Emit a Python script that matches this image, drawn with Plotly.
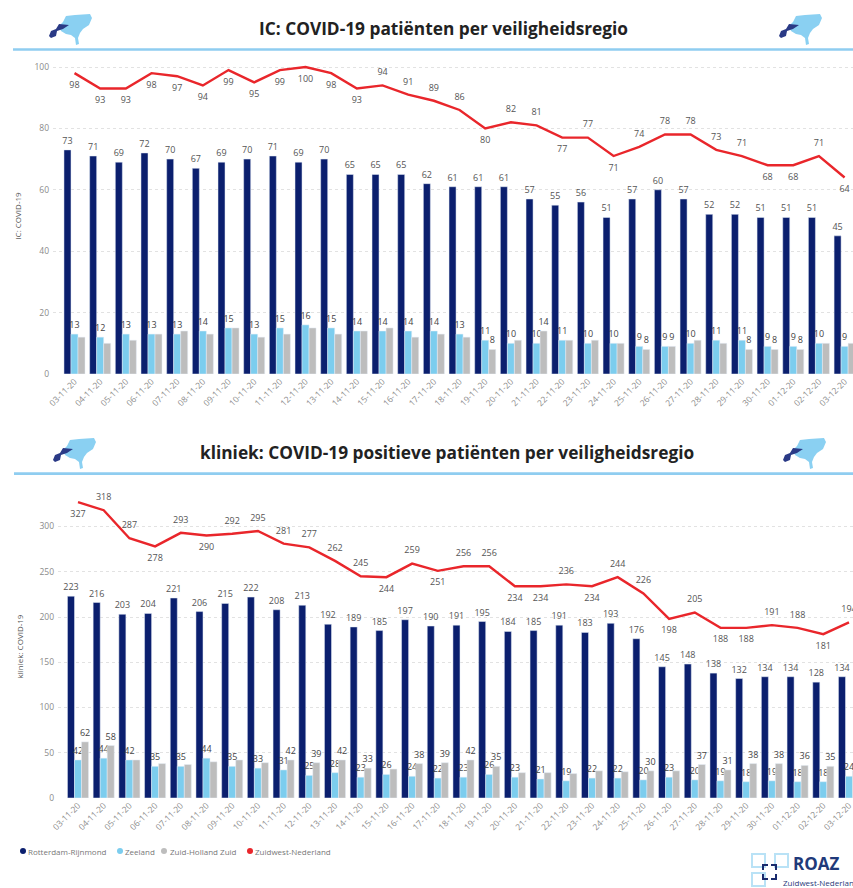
import plotly.graph_objects as go

W, H = 853, 888
dates = ["03-11-20","04-11-20","05-11-20","06-11-20","07-11-20","08-11-20","09-11-20","10-11-20","11-11-20","12-11-20",
         "13-11-20","14-11-20","15-11-20","16-11-20","17-11-20","18-11-20","19-11-20","20-11-20","21-11-20","22-11-20",
         "23-11-20","24-11-20","25-11-20","26-11-20","27-11-20","28-11-20","29-11-20","30-11-20","01-12-20","02-12-20","03-12-20"]

ic_rotterdam = [73,71,69,72,70,67,69,70,71,69,70,65,65,65,62,61,61,61,57,55,56,51,57,60,57,52,52,51,51,51,45]
ic_zeeland = [13,12,13,13,13,14,15,13,15,16,15,14,14,14,14,13,11,10,10,11,10,10,9,9,10,11,11,9,9,10,9]
ic_zhz = [12,10,11,13,14,13,15,12,13,15,13,14,15,12,13,12,8,11,14,11,11,10,8,9,11,10,8,8,8,10,10]
ic_zwn = [98,93,93,98,97,94,99,95,99,100,98,93,94,91,89,86,80,82,81,77,77,71,74,78,78,73,71,68,68,71,64]
ic_zwn_pos = list("bbbbbbbbbbbbaaaabaababaaaaabbab")
ic_zhz_shown = [16,18,22,23,26,27,28]

kl_rotterdam = [223,216,203,204,221,206,215,222,208,213,192,189,185,197,190,191,195,184,185,191,183,193,176,145,148,138,132,134,134,128,134]
kl_zeeland = [42,44,42,35,35,44,35,33,31,25,28,23,26,24,22,23,26,23,21,19,22,22,20,23,20,19,18,19,18,18,24]
kl_zhz = [62,58,42,38,37,40,42,39,42,39,42,33,32,38,39,42,35,28,28,27,30,29,30,30,37,31,38,38,36,35,30]
kl_zwn = [327,318,287,278,293,290,292,295,281,277,262,245,244,259,251,256,256,234,234,236,234,244,226,198,205,188,188,191,188,181,194]
kl_zwn_pos = list("baababaaaaaababaabbabaababbaaba")
kl_zhz_shown = [0,1,8,9,10,11,13,14,15,16,22,24,25,26,27,28,29]

NAVY, LIGHT, GREY, RED = "#0b1f6e", "#7ccdee", "#bdbdbd", "#e9262b"
LINE = "#8fcdf0"
FONT = "Open Sans"

def px(x): return x / W
def py(y): return 1 - y / H

fig = go.Figure()

def panel(xa, ya, rot, zee, zhz, zwn, pos, shown):
    fig.add_bar(x=dates, y=rot, name="Rotterdam-Rijnmond", marker_color=NAVY, xaxis=xa, yaxis=ya,
                text=[str(v) for v in rot], textposition="outside", textangle=0, constraintext="none",
                cliponaxis=False, textfont=dict(family=FONT, size=9, color="#555"), showlegend=False)
    fig.add_bar(x=dates, y=zee, name="Zeeland", marker_color=LIGHT, xaxis=xa, yaxis=ya,
                text=[str(v) for v in zee], textposition="outside", textangle=0, constraintext="none",
                cliponaxis=False, textfont=dict(family=FONT, size=9, color="#444"), showlegend=False)
    fig.add_bar(x=dates, y=zhz, name="Zuid-Holland Zuid", marker_color=GREY, xaxis=xa, yaxis=ya,
                text=[str(v) if i in shown else "" for i, v in enumerate(zhz)], textposition="outside",
                textangle=0, constraintext="none", cliponaxis=False,
                textfont=dict(family=FONT, size=9, color="#444"), showlegend=False)
    fig.add_scatter(x=dates, y=zwn, name="Zuidwest-Nederland", mode="lines+markers+text", xaxis=xa, yaxis=ya,
                    line=dict(color=RED, width=2.4), text=[str(v) for v in zwn], cliponaxis=False,
                    marker=dict(size=11, color="rgba(0,0,0,0)"),
                    textposition=["top center" if p == "a" else "bottom center" for p in pos],
                    textfont=dict(family=FONT, size=9, color="#555"), showlegend=False)

panel("x", "y", ic_rotterdam, ic_zeeland, ic_zhz, ic_zwn, ic_zwn_pos, ic_zhz_shown)
panel("x2", "y2", kl_rotterdam, kl_zeeland, kl_zhz, kl_zwn, kl_zwn_pos, kl_zhz_shown)

tick = dict(family=FONT, size=8.5, color="#8a8a8a")
xcommon = dict(type="category", tickangle=-45, tickfont=tick, showgrid=False, showline=False, ticks="",
               zeroline=False, tickmode="array", tickvals=dates, ticktext=dates, automargin=False)
ycommon = dict(tickfont=tick, gridcolor="#e2e2e2", griddash="dot", gridwidth=1, zeroline=False, showline=False,
               ticks="", ticklabelstandoff=3, automargin=False)

s1, c1 = 25.67, 74.5
s2, c2 = 25.7, 78.0
l1, l2 = 53, 58
fig.update_layout(
    width=W, height=H, margin=dict(l=0, r=0, t=0, b=0), paper_bgcolor="white", plot_bgcolor="white",
    barmode="group", bargap=0.18, bargroupgap=0, showlegend=False, font=dict(family=FONT),
    xaxis=dict(xcommon, domain=[px(l1), 1], range=[(l1 - c1) / s1, (W - c1) / s1], anchor="y"),
    yaxis=dict(ycommon, domain=[py(374), py(58)], range=[0, (374 - 58) / 3.07], tickvals=[0,20,40,60,80,100],
               anchor="x", title=dict(text="IC: COVID-19", font=dict(family=FONT, size=8, color="#555"), standoff=11)),
    xaxis2=dict(xcommon, domain=[px(l2), 1], range=[(l2 - c2) / s2, (W - c2) / s2], anchor="y2"),
    yaxis2=dict(ycommon, domain=[py(798), py(495)], range=[0, (798 - 495) / 0.905], tickvals=[0,50,100,150,200,250,300],
                anchor="x2", title=dict(text="kliniek: COVID-19", font=dict(family=FONT, size=8, color="#555"), standoff=14)),
)

shapes, ann = [], []
def text(x, y, s, size, color, anchor="left", bold=False):
    ann.append(dict(xref="paper", yref="paper", x=px(x), y=py(y), text=f"<b>{s}</b>" if bold else s, showarrow=False,
                    xanchor=anchor, yanchor="middle", font=dict(family=FONT, size=size, color=color)))
def path(points, fill=None, line=None, width=0, close=True):
    d = "M " + " L ".join(f"{px(a):.5f},{py(b):.5f}" for a, b in points) + (" Z" if close else "")
    shapes.append(dict(type="path", path=d, xref="paper", yref="paper", fillcolor=fill if fill else "rgba(0,0,0,0)",
                       line=dict(color=line if line else "rgba(0,0,0,0)", width=width)))
def logo(ax, ay):
    land = [(10,12),(14,8),(17,2),(26,1),(41,0),(43,4),(40,11),(34,15),(31,19),(29,24),(30,30),(27,31),(26,24),(22,21),(17,20),(12,17)]
    dark = [(0,22),(2,17),(7,15),(10,10),(20,11),(14,15),(8,17),(7,22),(2,24)]
    path([(ax + a, ay + b) for a, b in land], fill="#8ad0f2")
    path([(ax + a, ay + b) for a, b in dark], fill="#2a3a86")

for ax, ay in [(49, 14), (779, 14), (53, 438), (783, 438)]:
    logo(ax, ay)
path([(13, 49.5), (853, 49.5)], line=LINE, width=2.5, close=False)
path([(14, 473.7), (853, 473.7)], line=LINE, width=2.8, close=False)
text(443, 29, "IC: COVID-19 patiënten per veiligheidsregio", 17.3, "#222", "center", True)
text(447, 452, "kliniek: COVID-19 positieve patiënten per veiligheidsregio", 17.3, "#222", "center", True)

# legend
for dx, tx, name, col in [(23, 26, "Rotterdam-Rijnmond", NAVY), (120, 123, "Zeeland", LIGHT),
                          (164, 168, "Zuid-Holland Zuid", GREY), (250, 253, "Zuidwest-Nederland", RED)]:
    shapes.append(dict(type="circle", xref="paper", yref="paper", x0=px(dx - 3), x1=px(dx + 3), y0=py(854), y1=py(848),
                       fillcolor=col, line=dict(width=0)))
    text(tx, 851, name, 8, "#777")

# ROAZ mark
for x0, y0, x1, y1 in [(752, 854, 765, 867), (775, 854, 788, 867), (752, 873, 765, 886)]:
    shapes.append(dict(type="rect", xref="paper", yref="paper", x0=px(x0), x1=px(x1), y0=py(y0), y1=py(y1),
                       line=dict(color="#b9e2f6", width=2), fillcolor="rgba(0,0,0,0)"))
for pts in [[(768, 865), (763, 865), (763, 870)], [(771, 865), (776, 865), (776, 870)],
            [(763, 874), (763, 879), (768, 879)], [(776, 874), (776, 879), (771, 879)]]:
    path(pts, line="#1a2b6d", width=2, close=False)
text(791, 863, "ROAZ", 17, "#1f3a7a", bold=True)
text(781, 882, "Zuidwest-Nederland", 8, "#2a3a7a")

fig.update_layout(shapes=shapes, annotations=ann)
fig.write_html("out.html", config={"displayModeBar": False},
               post_script="document.body.style.margin='0';document.documentElement.style.overflow='hidden';")
